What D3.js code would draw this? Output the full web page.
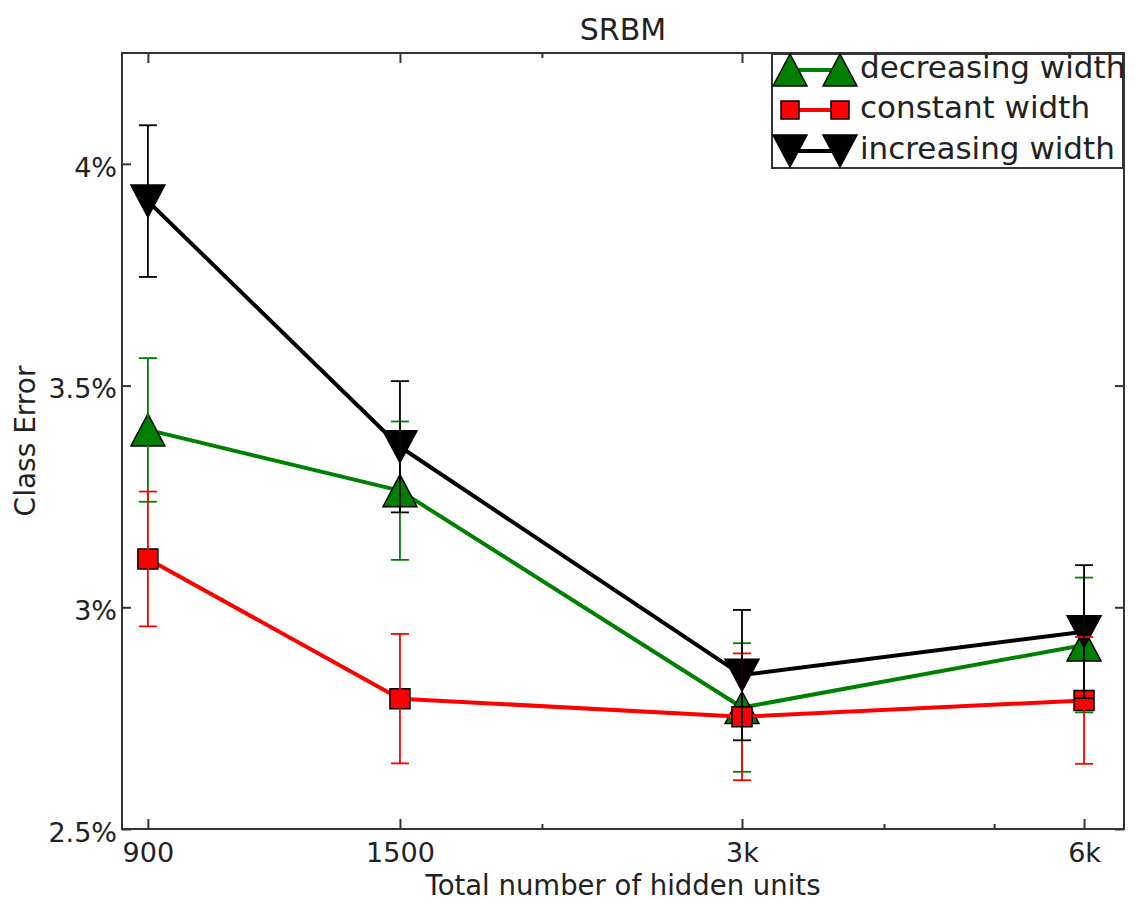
<!DOCTYPE html>
<html>
<head>
<meta charset="utf-8">
<script src="https://cdn.jsdelivr.net/npm/d3@7"></script>
<style>
  html, body { margin: 0; padding: 0; background: #fff; }
  text { font-family: "DejaVu Sans", sans-serif; fill: #222; }
</style>
</head>
<body>
<svg id="chart" width="1135" height="901"></svg>
<script>
// ---- data ----
const units = [900, 1500, 3000, 6000];
const xTickLabels = ["900", "1500", "3k", "6k"];
const xMinorTicks = [2000, 4000, 5000];
const yTicks = [2.5, 3, 3.5, 4];
const yTickLabels = ["2.5%", "3%", "3.5%", "4%"];
const seriesNames = ["decreasing width", "constant width", "increasing width"];
const decreasingWidth = [3.400, 3.263, 2.774, 2.915];
const decreasingErr   = [0.162, 0.156, 0.145, 0.152];
const constantWidth   = [3.109, 2.794, 2.753, 2.790];
const constantErr     = [0.152, 0.146, 0.143, 0.143];
const increasingWidth = [3.916, 3.362, 2.847, 2.945];
const increasingErr   = [0.171, 0.148, 0.147, 0.150];

const series = [
  { name: seriesNames[0], values: decreasingWidth, err: decreasingErr, color: "#008000", marker: "up" },
  { name: seriesNames[1], values: constantWidth,   err: constantErr,   color: "#ff0000", marker: "square" },
  { name: seriesNames[2], values: increasingWidth, err: increasingErr, color: "#000000", marker: "down" }
];

// ---- layout ----
const svg = d3.select("#chart");
const L = 122, R = 1124, T = 53, B = 829;
const axisColor = "#333";

const x = d3.scaleLog().domain([854, 6506]).range([L, R]);
const y = d3.scaleLinear().domain([2.5, 4.25]).range([B, T]);

const markerPath = {
  up: "M0,-16L17,16L-17,16Z",
  down: "M0,16L17,-16L-17,-16Z",
  square: "M-10,-10H10V10H-10Z"
};

// ---- axes ----
function styleAxis(g) {
  g.select(".domain").remove();
  g.selectAll(".tick line").attr("stroke", axisColor).attr("stroke-width", 2);
  g.selectAll(".tick text").attr("font-size", 27).attr("fill", "#222")
    .attr("font-family", "DejaVu Sans, sans-serif");
}

// bottom major
svg.append("g").attr("transform", `translate(0,${B})`)
  .call(d3.axisBottom(x).tickValues(units).tickFormat((d, i) => xTickLabels[i])
    .tickSize(-10).tickSizeOuter(0).tickPadding(14))
  .call(styleAxis);
// bottom minor
svg.append("g").attr("transform", `translate(0,${B})`)
  .call(d3.axisBottom(x).tickValues(xMinorTicks).tickFormat("").tickSize(-5).tickSizeOuter(0))
  .call(styleAxis);
// top major/minor (mirror)
svg.append("g").attr("transform", `translate(0,${T})`)
  .call(d3.axisTop(x).tickValues(units).tickFormat("").tickSize(-10).tickSizeOuter(0))
  .call(styleAxis);
svg.append("g").attr("transform", `translate(0,${T})`)
  .call(d3.axisTop(x).tickValues(xMinorTicks).tickFormat("").tickSize(-5).tickSizeOuter(0))
  .call(styleAxis);
// left
svg.append("g").attr("transform", `translate(${L},0)`)
  .call(d3.axisLeft(y).tickValues(yTicks).tickFormat((d, i) => yTickLabels[i])
    .tickSize(-9).tickSizeOuter(0).tickPadding(5))
  .call(styleAxis)
  .call(g => g.selectAll(".tick text").attr("dy", "0.45em"));
// right
svg.append("g").attr("transform", `translate(${R},0)`)
  .call(d3.axisRight(y).tickValues(yTicks).tickFormat("").tickSize(-9).tickSizeOuter(0))
  .call(styleAxis);

// frame
svg.append("rect").attr("x", L).attr("y", T).attr("width", R - L).attr("height", B - T)
  .attr("fill", "none").attr("stroke", axisColor).attr("stroke-width", 2);

// titles
svg.append("text").attr("x", (L + R) / 2).attr("y", 40).attr("text-anchor", "middle")
  .attr("font-size", 30).text("SRBM");
svg.append("text").attr("x", (L + R) / 2).attr("y", 894.5).attr("text-anchor", "middle")
  .attr("font-size", 27.5).text("Total number of hidden units");
svg.append("text").attr("transform", `translate(35,${(T + B) / 2}) rotate(-90)`)
  .attr("text-anchor", "middle").attr("font-size", 28).text("Class Error");

// ---- series lines and markers ----
const line = d3.line().x(d => x(d.u)).y(d => y(d.v));
series.forEach(s => {
  const pts = units.map((u, i) => ({ u, v: s.values[i], e: s.err[i] }));
  svg.append("path").datum(pts).attr("d", line)
    .attr("fill", "none").attr("stroke", s.color).attr("stroke-width", 4)
    .attr("stroke-linejoin", "round");
  svg.append("g").selectAll("path").data(pts).join("path")
    .attr("transform", d => `translate(${x(d.u)},${y(d.v)})`)
    .attr("d", markerPath[s.marker])
    .attr("fill", s.color).attr("stroke", "#000").attr("stroke-width", 1.5);
});

// ---- error bars ----
series.forEach(s => {
  const pts = units.map((u, i) => ({ u, v: s.values[i], e: s.err[i] }));
  const g = svg.append("g").attr("stroke", s.color).attr("stroke-width", 1.8);
  g.selectAll("line.v").data(pts).join("line").attr("class", "v")
    .attr("x1", d => x(d.u)).attr("x2", d => x(d.u))
    .attr("y1", d => y(d.v - d.e)).attr("y2", d => y(d.v + d.e));
  g.selectAll("line.t").data(pts).join("line").attr("class", "t")
    .attr("x1", d => x(d.u) - 9).attr("x2", d => x(d.u) + 9)
    .attr("y1", d => y(d.v + d.e)).attr("y2", d => y(d.v + d.e));
  g.selectAll("line.b").data(pts).join("line").attr("class", "b")
    .attr("x1", d => x(d.u) - 9).attr("x2", d => x(d.u) + 9)
    .attr("y1", d => y(d.v - d.e)).attr("y2", d => y(d.v - d.e));
});

// ---- legend ----
const lg = svg.append("g");
lg.append("rect").attr("x", 772).attr("y", 54).attr("width", 351).attr("height", 114)
  .attr("fill", "#fff").attr("stroke", axisColor).attr("stroke-width", 2);
const rowY = [70, 110, 151];
series.forEach((s, i) => {
  const ry = rowY[i];
  lg.append("line").attr("x1", 790).attr("x2", 840).attr("y1", ry).attr("y2", ry)
    .attr("stroke", s.color).attr("stroke-width", 4);
  [790, 840].forEach(mx => {
    lg.append("path").attr("transform", `translate(${mx},${ry})`)
      .attr("d", s.marker === "square" ? "M-9,-9H9V9H-9Z" : markerPath[s.marker])
      .attr("fill", s.color).attr("stroke", "#000").attr("stroke-width", 1.5);
  });
  lg.append("text").attr("x", 860).attr("y", ry + 8).attr("font-size", 31).text(s.name);
});
</script>
</body>
</html>
